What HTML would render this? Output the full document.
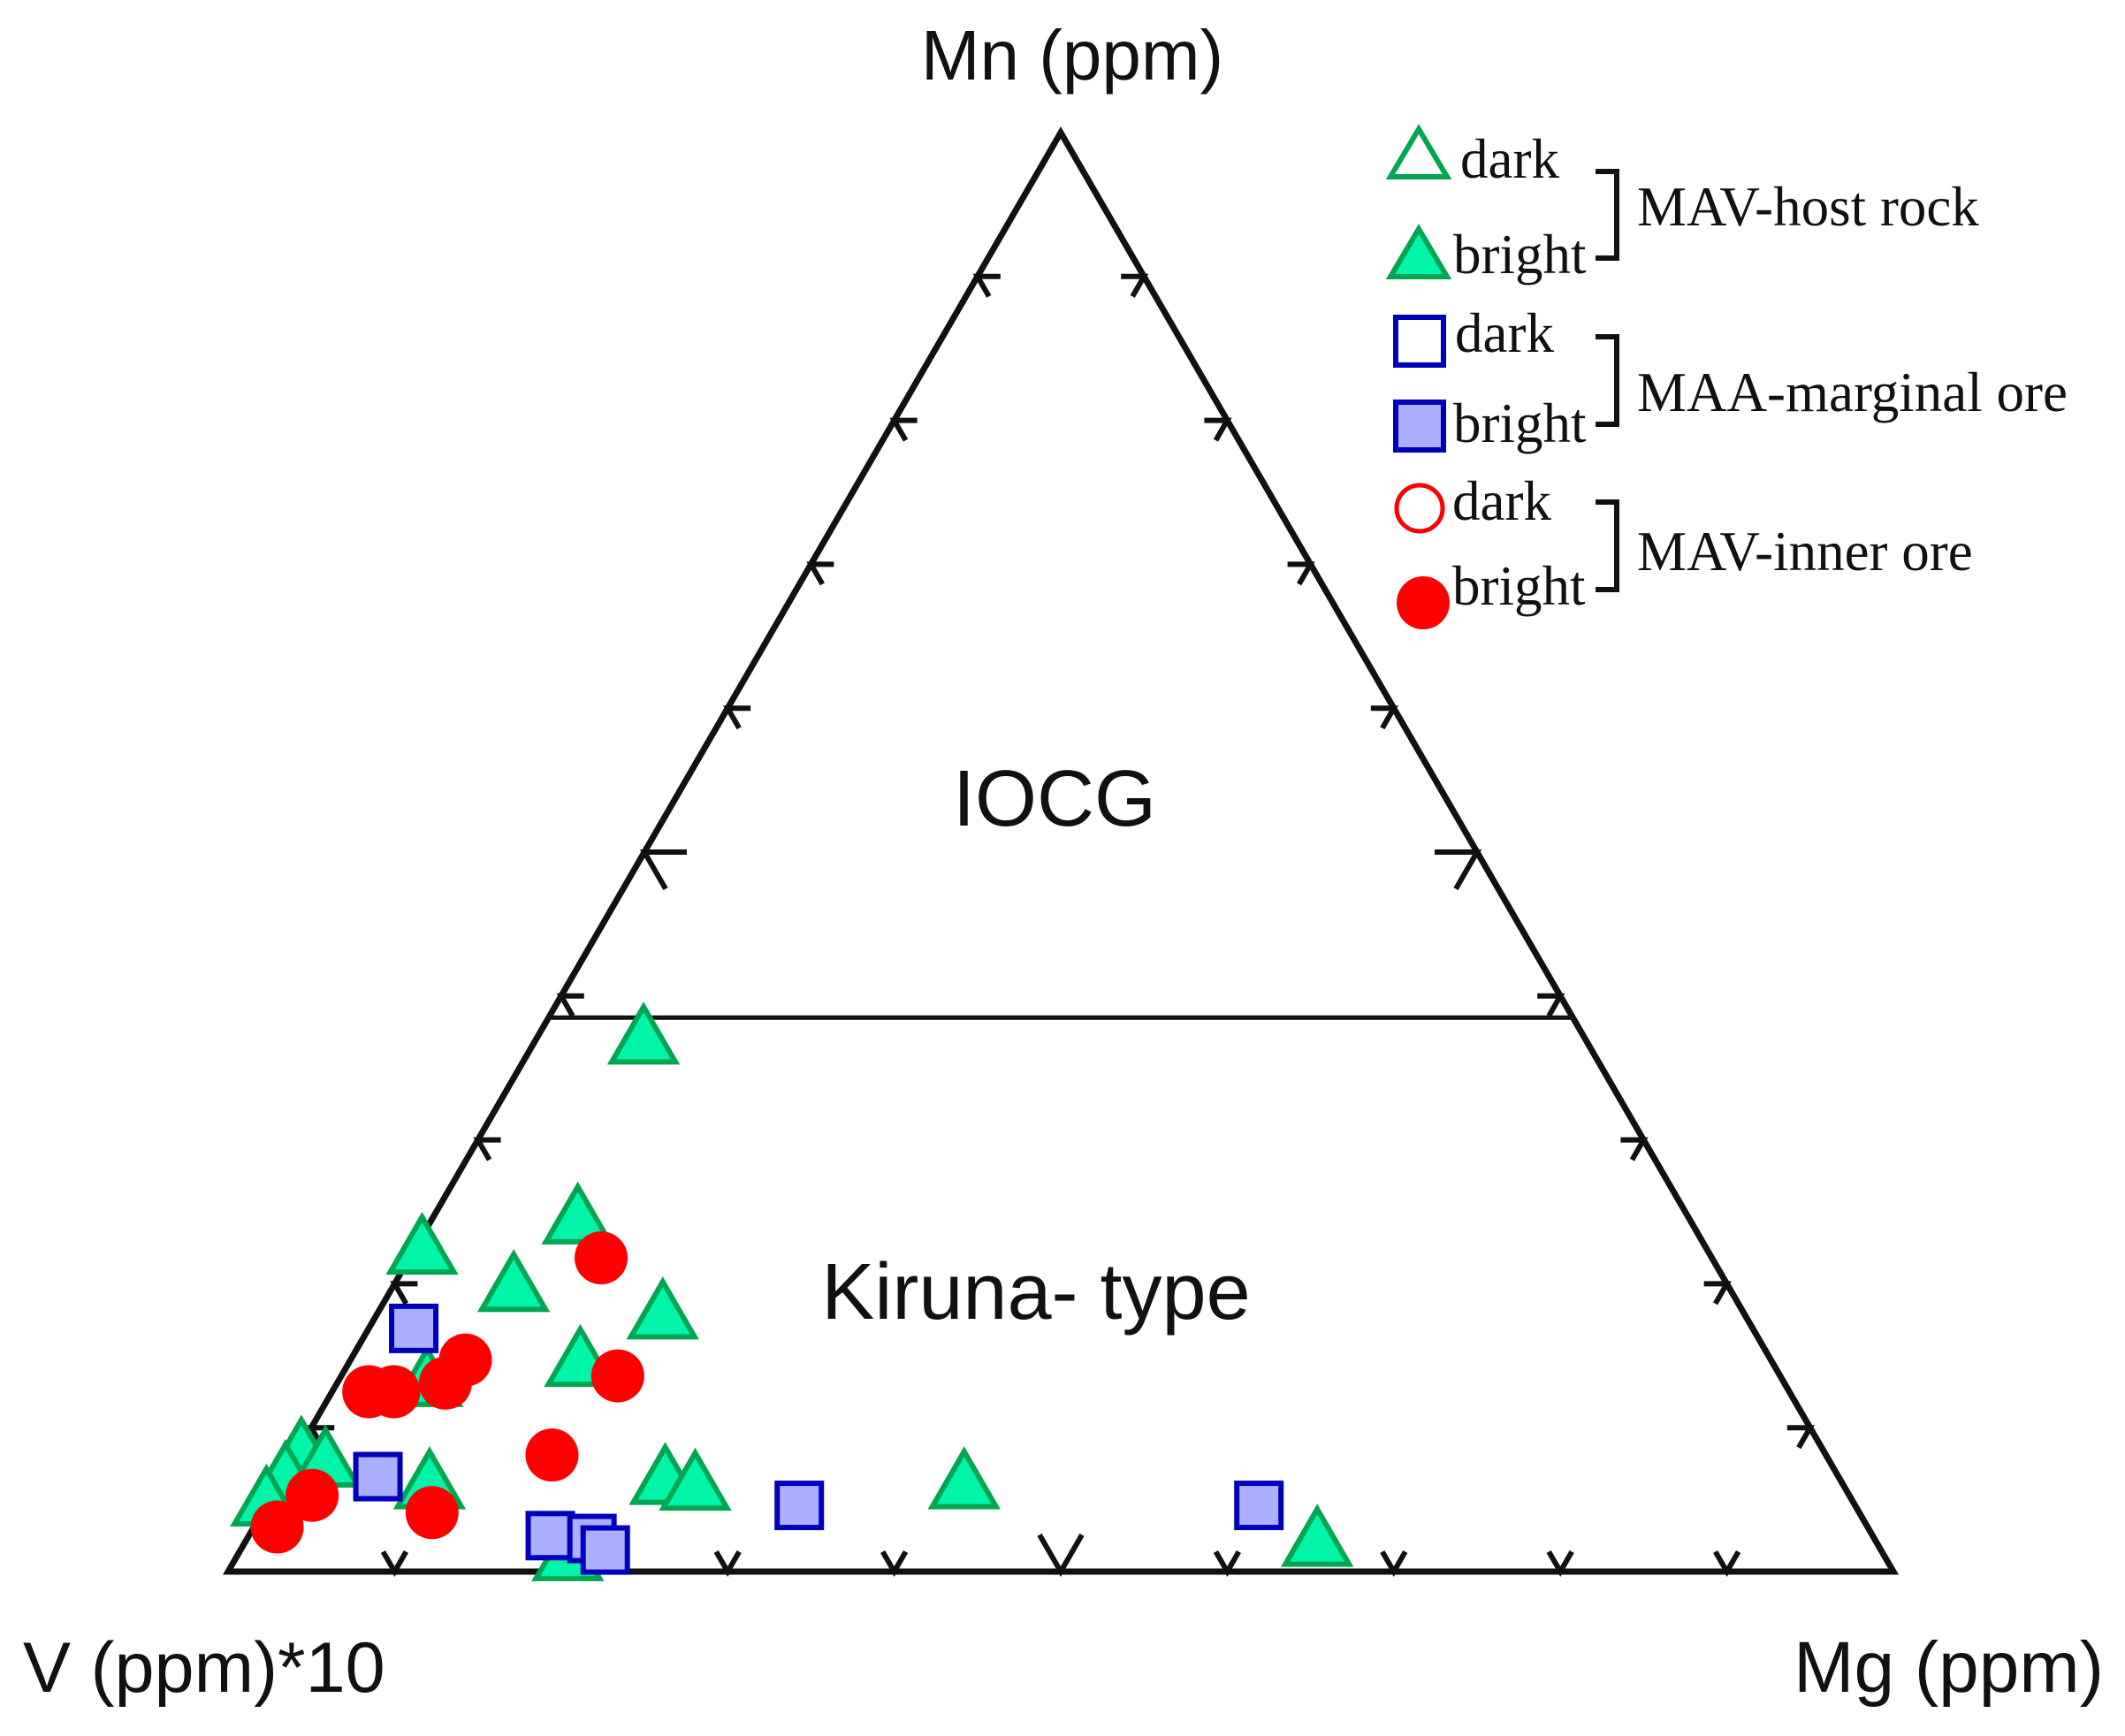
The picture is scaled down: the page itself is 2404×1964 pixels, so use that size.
<!DOCTYPE html>
<html><head><meta charset="utf-8"><style>
html,body{margin:0;padding:0;background:#fff;}
svg{display:block;}
</style></head><body>
<svg id="chart" width="2404" height="1964" viewBox="0 0 2404 1964" xmlns="http://www.w3.org/2000/svg">
<rect width="2404" height="1964" fill="#fff"/>
<g id="frame"></g>
<g id="ticks"></g>
<g id="marks"></g>
<text x="1213" y="90" font-family="Liberation Sans, sans-serif" font-size="80" text-anchor="middle" fill="#111">Mn (ppm)</text>
<text x="26" y="1914" font-family="Liberation Sans, sans-serif" font-size="81" fill="#111">V (ppm)*10</text>
<text x="2380" y="1914" font-family="Liberation Sans, sans-serif" font-size="82" text-anchor="end" fill="#111">Mg (ppm)</text>
<text x="1193" y="934" font-family="Liberation Sans, sans-serif" font-size="90" text-anchor="middle" fill="#111">IOCG</text>
<text x="1172" y="1492" font-family="Liberation Sans, sans-serif" font-size="90" text-anchor="middle" fill="#111">Kiruna- type</text>
<g font-family="Liberation Serif, serif" font-size="63" fill="#111">
  <polygon points="1605,146 1573,200 1637,200" fill="#fff" stroke="#00A651" stroke-width="6"/>
  <text x="1652" y="201">dark</text>
  <polygon points="1605,259 1573,313 1637,313" fill="#00F5A8" stroke="#00A651" stroke-width="6"/>
  <text x="1644" y="309">bright</text>
  <path d="M1805,194 H1829 V292 H1805" fill="none" stroke="#111" stroke-width="6"/>
  <text x="1852" y="255">MAV-host rock</text>
  <rect x="1579" y="359" width="54" height="54" fill="#fff" stroke="#0000BB" stroke-width="6"/>
  <text x="1646" y="398">dark</text>
  <rect x="1579" y="455" width="54" height="54" fill="#AAB0FF" stroke="#0000BB" stroke-width="6"/>
  <text x="1644" y="500">bright</text>
  <path d="M1805,381 H1829 V480 H1805" fill="none" stroke="#111" stroke-width="6"/>
  <text x="1852" y="465">MAA-marginal ore</text>
  <circle cx="1606" cy="575" r="26" fill="#fff" stroke="#FF0000" stroke-width="5"/>
  <text x="1643" y="588">dark</text>
  <circle cx="1610" cy="682" r="30" fill="#FF0000"/>
  <text x="1643" y="684">bright</text>
  <path d="M1805,568 H1829 V667 H1805" fill="none" stroke="#111" stroke-width="6"/>
  <text x="1852" y="645">MAV-inner ore</text>
</g>
</svg>
<script>
// Ternary data: Mn % and Mg % (V*10 % = 100 - Mn - Mg)
const triMn = [36.7,24.2,22.1,19.5,17.6,14.3,12.9,8.0,7.3,6.3,4.6,5.8,6.1,5.7,5.8,1.8,0.8];
const triMg = [6.6,8.9,0.6,7.4,17.3,14.0,5.5,0.4,2.2,0.3,0.0,9.2,23.2,25.2,41.3,64.5,20.0];
const sqMn = [16.9,6.6,2.5,2.3,1.5,4.6,4.6];
const sqMg = [2.7,5.7,18.1,20.7,21.9,32.0,59.6];
const cirMn = [21.8,14.7,13.1,12.5,12.5,13.6,8.1,5.3,4.1,3.1];
const cirMg = [11.5,6.9,6.5,2.2,3.7,16.6,15.4,2.4,10.2,1.4];
const tickPct = [10,20,30,40,50,60,70,80,90];
const boundaryMn = [38.5];

const NS = 'http://www.w3.org/2000/svg';
const BLx = 258, BLy = 1778, W = 1884, H = 1628;
function px(mn, mg){ return BLx + (mg + mn/2)/100*W; }
function py(mn){ return BLy - mn/100*H; }
function mk(tag, attrs, parent){
  const e = document.createElementNS(NS, tag);
  for (const k in attrs) e.setAttribute(k, attrs[k]);
  parent.appendChild(e); return e;
}
const frame = document.getElementById('frame');
const ticks = document.getElementById('ticks');
const marks = document.getElementById('marks');

const outline = mk('polygon', {points: `${px(100,0)},${py(100)} ${px(0,0)},${py(0)} ${px(0,100)},${py(0)}`, fill:'none', stroke:'#111', 'stroke-width':7, 'stroke-linejoin':'miter'}, frame);



boundaryMn.forEach(m => {
  const l = mk('line', {x1:px(m,0), y1:py(m), x2:px(m,100-m), y2:py(m), stroke:'#111', 'stroke-width':5}, frame);
  
  
});

const c60 = Math.cos(Math.PI/3), s60 = Math.sin(Math.PI/3);
tickPct.forEach(t => {
  const L = t === 50 ? 48 : 26;
  let x = px(0, t), y = py(0);
  let p = mk('path', {d:`M${x-L*c60},${y-L*s60} L${x},${y} L${x+L*c60},${y-L*s60}`, fill:'none', stroke:'#111', 'stroke-width':6}, ticks);
  
  
  x = px(t, 0); y = py(t);
  p = mk('path', {d:`M${x+L},${y} L${x},${y} L${x+L*c60},${y+L*s60}`, fill:'none', stroke:'#111', 'stroke-width':6}, ticks);
  
  
  x = px(t, 100-t); y = py(t);
  p = mk('path', {d:`M${x-L},${y} L${x},${y} L${x-L*c60},${y+L*s60}`, fill:'none', stroke:'#111', 'stroke-width':6}, ticks);
  
  
});

triMn.forEach((m, i) => {
  const x = px(m, triMg[i]), y = py(m), s = 36;
  const g = mk('polygon', {points:`${x},${y-s*1.15} ${x-s},${y+s*0.58} ${x+s},${y+s*0.58}`, fill:'#00F5A8', stroke:'#00A651', 'stroke-width':6}, marks);
  
  
});
sqMn.forEach((m, i) => {
  const x = px(m, sqMg[i]), y = py(m);
  const r = mk('rect', {x:x-25, y:y-25, width:50, height:50, fill:'#AAB0FF', stroke:'#0000BB', 'stroke-width':6}, marks);
  
  
});
cirMn.forEach((m, i) => {
  const c = mk('circle', {cx:px(m, cirMg[i]), cy:py(m), r:30, fill:'#FF0000'}, marks);
  
  
});
</script>
</body></html>
